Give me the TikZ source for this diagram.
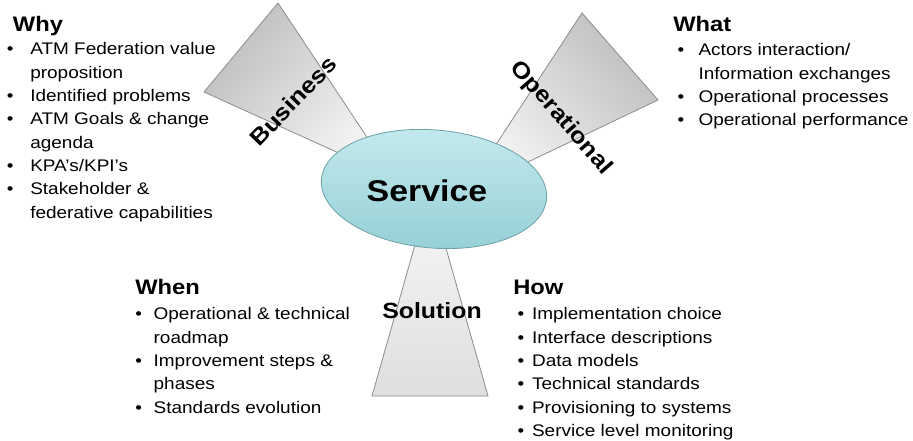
\documentclass[tikz,border=0pt]{standalone}
\usepackage{fontspec}
\setmainfont{Liberation Sans}[FakeStretch=1.13]
\usetikzlibrary{shapes.geometric}

\definecolor{wedgeout}{RGB}{190,190,190}
\definecolor{wedgein}{RGB}{248,248,248}
\definecolor{wedgeline}{RGB}{140,140,140}
\definecolor{servtop}{RGB}{196,234,238}
\definecolor{servbot}{RGB}{150,208,214}
\definecolor{servline}{RGB}{110,160,168}

\newcommand{\blist}[2]{\begin{tabular}[t]{@{}l@{\hspace{#1}}l@{}}#2\end{tabular}}

\begin{document}
\begin{tikzpicture}[x=0.75pt,y=-0.75pt,
  wedge/.style={draw=wedgeline, line width=0.6pt, top color=wedgeout, bottom color=wedgein},
  head/.style={anchor=base west, inner sep=0pt, font=\fontsize{15.75}{18}\selectfont\bfseries},
  items/.style={anchor=base west, inner sep=0pt, font=\fontsize{12.6}{17.5}\selectfont},
  lbl/.style={inner sep=0pt, font=\fontsize{17}{19}\selectfont\bfseries}]
\useasboundingbox (0,0) rectangle (913,441);

% the three wedges (tips hidden under the ellipse)
\coordinate (busTip) at (394,178);
\coordinate (busTop) at (278,3);
\coordinate (busLeft) at (204,92);
\draw[wedge, shading angle=49.5] (busTip) -- (busTop) -- (busLeft) -- cycle;

\coordinate (opTip) at (465,192);
\coordinate (opTop) at (582,13);
\coordinate (opRight) at (658,100);
\draw[wedge, shading angle=-49] (opTip) -- (opTop) -- (opRight) -- cycle;

\coordinate (solTip) at (430,192);
\coordinate (solLeft) at (372,396);
\coordinate (solRight) at (488,396);
\draw[wedge, top color=white!50!wedgeout, shading angle=180] (solTip) -- (solRight) -- (solLeft) -- cycle;

% the service ellipse
\node (serv) [shape=ellipse, minimum width=169.5pt, minimum height=88.5pt, inner sep=0pt, rotate=-5,
  draw=servline, line width=0.6pt, top color=servtop, bottom color=servbot] at (434,189) {};
\node (servtext) [inner sep=0pt, font=\fontsize{22.5}{24}\selectfont\bfseries] at (427,191) {Service};

% wedge labels
\node (business) [lbl, rotate=46] at (293,101) {Business};
\node (operational) [lbl, rotate=-49] at (561,118) {Operational};
\node (solution) [lbl, font=\fontsize{16.5}{18}\selectfont\bfseries] at (432,311) {Solution};

% Why
\node (why) [head] at (12.7,32) {Why};
\node (whylist) [items] at (6.7,55) {\blist{12.5pt}{%
\textbullet & ATM Federation value\\
 & proposition\\
\textbullet & Identified problems\\
\textbullet & ATM Goals \& change\\
 & agenda\\
\textbullet & KPA's/KPI's\\
\textbullet & Stakeholder \&\\
 & federative capabilities}};

% What
\node (what) [head] at (673,32) {What};
\node (whatlist) [items] at (677.4,56) {\blist{10.7pt}{%
\textbullet & Actors interaction/\\
 & Information exchanges\\
\textbullet & Operational processes\\
\textbullet & Operational performance}};

% When
\node (when) [head] at (135,295) {When};
\node (whenlist) [items] at (135,320) {\blist{8.8pt}{%
\textbullet & Operational \& technical\\
 & roadmap\\
\textbullet & Improvement steps \&\\
 & phases\\
\textbullet & Standards evolution}};

% How
\node (how) [head] at (513,295) {How};
\node (howlist) [items] at (517.4,320) {\blist{5.8pt}{%
\textbullet & Implementation choice\\
\textbullet & Interface descriptions\\
\textbullet & Data models\\
\textbullet & Technical standards\\
\textbullet & Provisioning to systems\\
\textbullet & Service level monitoring}};
\end{tikzpicture}
\end{document}
